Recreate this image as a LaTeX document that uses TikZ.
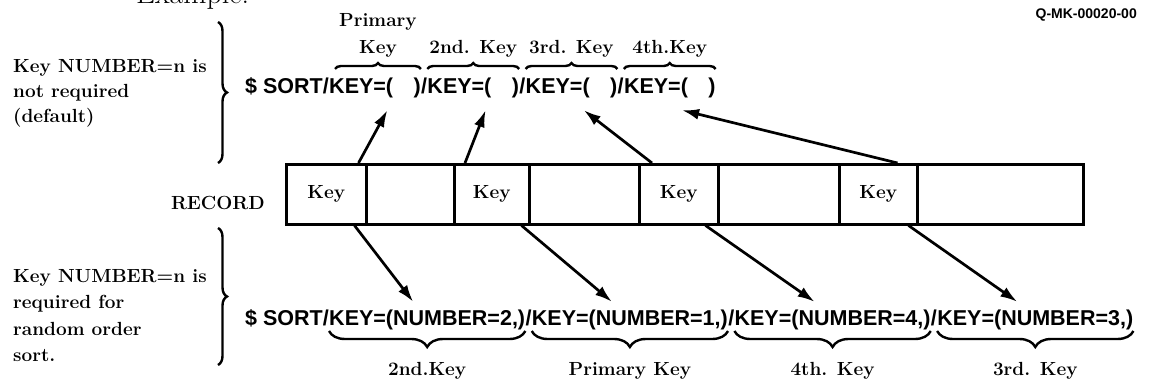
\documentclass[tikz,border=0pt]{standalone}
\usepackage{fontspec}
\newfontfamily\cmdfont{Liberation Sans}
\usetikzlibrary{arrows.meta,decorations.pathreplacing,calc}
\begin{document}
\begin{tikzpicture}[x=1pt,y=-1pt,
  txt/.style={inner sep=0pt, font=\fontsize{19}{25}\selectfont\bfseries},
  lbl/.style={txt, anchor=base},
  cmd/.style={inner sep=0pt, font=\cmdfont\bfseries\fontsize{21.5}{24}\selectfont, text height=16pt, text depth=5pt, anchor=base west},
  cell/.style={draw, line width=2.5pt, minimum height=60pt, inner sep=0pt, anchor=north west, txt},
  arr/.style={line width=2.7pt, -{Latex[length=17pt,width=11pt]}},
  obrace/.style={line width=2.4pt, decorate, decoration={brace, amplitude=6pt}},
  ubrace/.style={line width=2.4pt, decorate, decoration={brace, mirror, amplitude=16pt}},
  vbrace/.style={line width=2.4pt, decorate, decoration={brace, amplitude=9pt}}]
\useasboundingbox (0,0) rectangle (1152,388);

% title fragments
\node[inner sep=0pt, anchor=base west, font=\fontsize{30}{30}\selectfont] (ex) at (136,4) {Example:};
\node[inner sep=0pt, anchor=base east, font=\cmdfont\bfseries\fontsize{14}{14}\selectfont] (qmk) at (1137,18) {Q-MK-00020-00};

% left notes
\node[txt, anchor=north west, align=left] (note1) at (13,59) {Key NUMBER=n is\\not required\\(default)};
\node[txt, anchor=north west, align=left, font=\fontsize{19}{26.5}\selectfont\bfseries] (note2) at (13,269) {Key NUMBER=n is\\required for\\random order\\sort.};
\draw[vbrace] (218,22) -- coordinate[midway] (vb1) (218,163);
\draw[vbrace] (218,228) -- coordinate[midway] (vb2) (218,365);

% record
\node[txt, anchor=base east] (rec) at (265,209) {RECORD};
\node[cell, minimum width=80pt]  (c1) at (285,163) {Key};
\node[cell, minimum width=88pt]  (c2) at (365,163) {};
\node[cell, minimum width=75pt]  (c3) at (453,163) {Key};
\node[cell, minimum width=110pt] (c4) at (528,163) {};
\node[cell, minimum width=79pt]  (c5) at (638,163) {Key};
\node[cell, minimum width=121pt] (c6) at (717,163) {};
\node[cell, minimum width=78pt]  (c7) at (838,163) {Key};
\node[cell, minimum width=166pt] (c8) at (916,163) {};

% top command
\node[cmd] (t0) at (245,93) {\$ SORT/};
\node[cmd] (ka1) at (t0.base east) {KEY=(};
\node[cmd] (kb1) at (ka1.base east) {\hspace{20pt})};
\node[cmd] (ts1) at (kb1.base east) {/};
\node[cmd] (ka2) at (ts1.base east) {KEY=(};
\node[cmd] (kb2) at (ka2.base east) {\hspace{20pt})};
\node[cmd] (ts2) at (kb2.base east) {/};
\node[cmd] (ka3) at (ts2.base east) {KEY=(};
\node[cmd] (kb3) at (ka3.base east) {\hspace{20pt})};
\node[cmd] (ts3) at (kb3.base east) {/};
\node[cmd] (ka4) at (ts3.base east) {KEY=(};
\node[cmd] (kb4) at (ka4.base east) {\hspace{20pt})};

\draw[obrace] ([xshift=6pt]ka1.west |- 0,69) -- coordinate[midway] (m1) (kb1.east |- 0,69);
\draw[obrace] (ka2.west |- 0,69) -- coordinate[midway] (m2) (kb2.east |- 0,69);
\draw[obrace] (ka3.west |- 0,69) -- coordinate[midway] (m3) (kb3.east |- 0,69);
\draw[obrace] (ka4.west |- 0,69) -- coordinate[midway] (m4) (kb4.east |- 0,69);
\node[lbl] (tl1a) at (m1 |- 0,27) {Primary};
\node[lbl] (tl1) at (m1 |- 0,53) {Key};
\node[lbl] (tl2) at (m2 |- 0,53) {2nd. Key};
\node[lbl] (tl3) at (m3 |- 0,53) {3rd. Key};
\node[lbl] (tl4) at (m4 |- 0,53) {4th.Key};

\draw[arr] ([xshift=-9pt]c1.north east) -- ([xshift=-6pt,yshift=-12pt]ka1.south east);
\draw[arr] ([xshift=12pt]c3.north west) -- ([xshift=-6pt,yshift=-12pt]ka2.south east);
\draw[arr] ([xshift=14pt]c5.north west) -- ([xshift=-6pt,yshift=-12pt]ka3.south east);
\draw[arr] ([xshift=-21pt]c7.north east) -- ([xshift=-6pt,yshift=-12pt]ka4.south east);

% bottom command
\node[cmd] (b0) at (245,325) {\$ SORT/};
\node[cmd] (g1) at (b0.base east) {KEY=(NUMBER=2,)};
\node[cmd] (bs1) at (g1.base east) {/};
\node[cmd] (g2) at (bs1.base east) {KEY=(NUMBER=1,)};
\node[cmd] (bs2) at (g2.base east) {/};
\node[cmd] (g3) at (bs2.base east) {KEY=(NUMBER=4,)};
\node[cmd] (bs3) at (g3.base east) {/};
\node[cmd] (g4) at (bs3.base east) {KEY=(NUMBER=3,)};

\draw[ubrace] (g1.west |- 0,331) -- coordinate[midway] (n1) (g1.east |- 0,331);
\draw[ubrace] (g2.west |- 0,331) -- coordinate[midway] (n2) (g2.east |- 0,331);
\draw[ubrace] (g3.west |- 0,331) -- coordinate[midway] (n3) (g3.east |- 0,331);
\draw[ubrace] (g4.west |- 0,331) -- coordinate[midway] (n4) (g4.east |- 0,331);
\node[lbl] (bl1) at (n1 |- 0,375) {2nd.Key};
\node[lbl] (bl2) at (n2 |- 0,375) {Primary Key};
\node[lbl] (bl3) at (n3 |- 0,375) {4th. Key};
\node[lbl] (bl4) at (n4 |- 0,375) {3rd. Key};

\draw[arr] ([xshift=-13pt]c1.south east) -- ([xshift=-14pt,yshift=7pt]g1.north);
\draw[arr] ([xshift=-9pt]c3.south east) -- ([xshift=-18pt,yshift=7pt]g2.north);
\draw[arr] ([xshift=-14pt]c5.south east) -- ([xshift=-18pt,yshift=7pt]g3.north);
\draw[arr] ([xshift=-10pt]c7.south east) -- ([xshift=-18pt,yshift=7pt]g4.north);
\end{tikzpicture}
\end{document}
